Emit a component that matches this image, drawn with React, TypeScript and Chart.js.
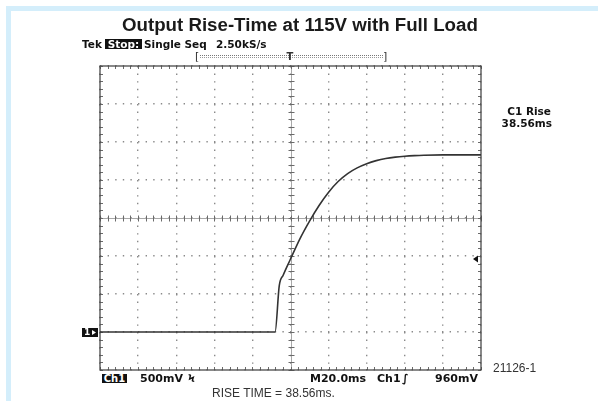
import React, { useEffect, useRef } from "react";
import { Chart, registerables } from "chart.js";

Chart.register(...registerables);

// Channel 1 capture: time relative to the trigger point (ms) and voltage (V)
const timeMs = [-100, -8.1, -5.9, -3.8, 0, 5, 10, 15, 20, 25, 30, 35, 40, 45, 50, 55, 60, 65, 70, 80, 100];
const volts = [0, 0, 0.61, 0.75, 0.96, 1.23, 1.46, 1.665, 1.84, 1.98, 2.085, 2.16, 2.215, 2.255, 2.283, 2.301, 2.313, 2.321, 2.326, 2.33, 2.33];

// Horizontal: 20 ms/div over 10 divisions, trigger at centre
const timeRange = [-100, 100];
const timePerDiv = 20;
// Vertical: 500 mV/div over 8 divisions, ground reference one division above the bottom
const voltRange = [-0.5, 3.5];
const voltPerDiv = 0.5;
const triggerLevel = 0.96;

const BAND = "#d4eefb";
const SCOPE_FONT = "'DejaVu Sans', sans-serif";
const SANS = "'Liberation Sans', Arial, sans-serif";

function line(ctx: CanvasRenderingContext2D, x1: number, y1: number, x2: number, y2: number) {
  ctx.beginPath();
  ctx.moveTo(x1, y1);
  ctx.lineTo(x2, y2);
  ctx.stroke();
}

const crisp = (v: number) => Math.round(v) + 0.5;

// Graticule centre lines, minor ticks, frame and the channel / trigger markers
const scopeDecor = {
  id: "scopeDecor",
  beforeDatasetsDraw(chart: any) {
    const { ctx, chartArea: a, scales } = chart;
    const xs = scales.x;
    const ys = scales.y;
    const cx = crisp(xs.getPixelForValue((timeRange[0] + timeRange[1]) / 2));
    const cy = crisp(ys.getPixelForValue((voltRange[0] + voltRange[1]) / 2));
    ctx.save();
    ctx.lineWidth = 1;
    ctx.strokeStyle = "#a8a8a8";
    line(ctx, a.left, cy, a.right, cy);
    line(ctx, cx, a.top, cx, a.bottom);

    ctx.strokeStyle = "#6a6a6a";
    const tStep = timePerDiv / 5;
    for (let t = timeRange[0]; t <= timeRange[1] + 1e-6; t += tStep) {
      const px = crisp(xs.getPixelForValue(t));
      line(ctx, px, cy - 3, px, cy + 3);
      line(ctx, px, a.top, px, a.top + 3);
      line(ctx, px, a.bottom - 3, px, a.bottom);
    }
    const vStep = voltPerDiv / 5;
    for (let v = voltRange[0]; v <= voltRange[1] + 1e-6; v += vStep) {
      const py = crisp(ys.getPixelForValue(v));
      line(ctx, cx - 3, py, cx + 3, py);
      line(ctx, a.left, py, a.left + 3, py);
      line(ctx, a.right - 3, py, a.right, py);
    }

    ctx.strokeStyle = "#4a4a4a";
    ctx.lineWidth = 1.3;
    ctx.strokeRect(a.left, a.top, a.right - a.left, a.bottom - a.top);
    ctx.restore();
  },
  afterDatasetsDraw(chart: any) {
    const { ctx, chartArea: a, scales } = chart;
    const ys = scales.y;
    ctx.save();

    // Channel 1 ground reference marker
    const gy = Math.round(ys.getPixelForValue(0));
    ctx.fillStyle = "#111";
    ctx.fillRect(a.left - 18, gy - 4, 16, 9);
    ctx.fillStyle = "#fff";
    ctx.font = `bold 9px ${SCOPE_FONT}`;
    ctx.textBaseline = "middle";
    ctx.fillText("1", a.left - 16, gy + 0.5);
    ctx.beginPath();
    ctx.moveTo(a.left - 8, gy - 2);
    ctx.lineTo(a.left - 4, gy + 0.5);
    ctx.lineTo(a.left - 8, gy + 3);
    ctx.closePath();
    ctx.fill();

    // Trigger level marker
    const ty = ys.getPixelForValue(triggerLevel);
    ctx.fillStyle = "#111";
    ctx.beginPath();
    ctx.moveTo(a.right - 8, ty);
    ctx.lineTo(a.right - 3, ty - 3.5);
    ctx.lineTo(a.right - 3, ty + 3.5);
    ctx.closePath();
    ctx.fill();
    ctx.restore();
  },
};

type LabelProps = {
  x: number;
  base: number;
  size: number;
  family: string;
  bold?: boolean;
  color?: string;
  right?: boolean;
  children: React.ReactNode;
};

// Places text so that its baseline sits at `base`
function Label({ x, base, size, family, bold, color = "#111", right, children }: LabelProps) {
  const style: React.CSSProperties = {
    position: "absolute",
    top: base - 0.846 * size,
    fontSize: size,
    lineHeight: `${size}px`,
    fontFamily: family,
    fontWeight: bold ? "bold" : "normal",
    color,
    whiteSpace: "nowrap",
  };
  if (right) style.right = 598 - x;
  else style.left = x;
  return <div style={style}>{children}</div>;
}

function Inverse({ x, y, w, h, size, children }: { x: number; y: number; w: number; h: number; size: number; children: React.ReactNode }) {
  return (
    <div
      style={{
        position: "absolute",
        left: x,
        top: y,
        width: w,
        height: h,
        background: "#111",
        color: "#fff",
        fontFamily: SCOPE_FONT,
        fontWeight: "bold",
        fontSize: size,
        lineHeight: `${h}px`,
        textAlign: "center",
        whiteSpace: "nowrap",
        overflow: "hidden",
      }}
    >
      {children}
    </div>
  );
}

export default function App() {
  const canvasRef = useRef<HTMLCanvasElement>(null);

  useEffect(() => {
    const canvas = canvasRef.current;
    if (!canvas) return;
    const chart = new Chart(canvas, {
      type: "line",
      data: {
        datasets: [
          {
            data: timeMs.map((t, i) => ({ x: t, y: volts[i] })),
            borderColor: "#333",
            borderWidth: 1.6,
            pointRadius: 0,
            cubicInterpolationMode: "monotone",
            fill: false,
          },
        ],
      },
      options: {
        responsive: false,
        animation: false,
        events: [],
        layout: { padding: { left: 100, top: 66, right: 117, bottom: 31 } },
        plugins: { legend: { display: false }, tooltip: { enabled: false }, title: { display: false } },
        scales: {
          x: {
            type: "linear",
            min: timeRange[0],
            max: timeRange[1],
            ticks: { display: false, stepSize: timePerDiv },
            grid: { color: "#8a8a8a", lineWidth: 1.4, drawTicks: false },
            border: { display: false, dash: [1.4, 6.2] },
          },
          y: {
            type: "linear",
            min: voltRange[0],
            max: voltRange[1],
            ticks: { display: false, stepSize: voltPerDiv },
            grid: { color: "#8a8a8a", lineWidth: 1.4, drawTicks: false },
            border: { display: false, dash: [1.4, 6.2] },
          },
        },
      },
      plugins: [scopeDecor],
    } as any);
    return () => chart.destroy();
  }, []);

  return (
    <div style={{ position: "fixed", left: 0, top: 0, width: 598, height: 401, background: "#fff", overflow: "hidden" }}>
      <div style={{ position: "absolute", left: 6, top: 6, width: 592, height: 5, background: BAND }} />
      <div style={{ position: "absolute", left: 6, top: 6, width: 5, height: 395, background: BAND }} />
      <canvas ref={canvasRef} width={598} height={401} style={{ position: "absolute", left: 0, top: 0 }} />

      <Label x={122} base={31.5} size={18.7} family={SANS} bold color="#1a1a1a">
        Output Rise-Time at 115V with Full Load
      </Label>

      {/* acquisition status line */}
      <Label x={82} base={47.7} size={10.5} family={SCOPE_FONT} bold>Tek</Label>
      <Inverse x={105} y={39} w={37} h={10} size={10.5}>Stop:</Inverse>
      <Label x={144} base={47.7} size={10.5} family={SCOPE_FONT} bold>Single Seq</Label>
      <Label x={216} base={47.7} size={10.5} family={SCOPE_FONT} bold>2.50kS/s</Label>

      {/* record position bracket */}
      <Label x={195} base={60} size={11} family={SCOPE_FONT} color="#333">[</Label>
      <div style={{ position: "absolute", left: 200, top: 55, width: 183, height: 1, borderTop: "1px dotted #777", borderBottom: "1px dotted #999" }} />
      <Label x={286.5} base={60} size={10} family={SCOPE_FONT} bold color="#333">T</Label>
      <Label x={383} base={60} size={11} family={SCOPE_FONT} color="#333">]</Label>

      {/* measurement readout */}
      <Label x={551} base={115} size={10.5} family={SCOPE_FONT} bold right>C1 Rise</Label>
      <Label x={552} base={127} size={10.5} family={SCOPE_FONT} bold right>38.56ms</Label>

      {/* channel and timebase readout */}
      <Inverse x={102} y={374} w={25} h={9} size={10}>Ch1</Inverse>
      <Label x={140} base={382} size={11} family={SCOPE_FONT} bold>500mV</Label>
      <Label x={188} base={382} size={10} family={SCOPE_FONT} bold>Ϟ</Label>
      <Label x={310} base={382} size={11} family={SCOPE_FONT} bold>M20.0ms</Label>
      <Label x={377} base={382} size={11} family={SCOPE_FONT} bold>Ch1</Label>
      <Label x={402} base={382} size={11} family={SCOPE_FONT} bold>∫</Label>
      <Label x={435} base={382} size={11} family={SCOPE_FONT} bold>960mV</Label>

      <Label x={493} base={372} size={12} family={SANS} color="#333">21126-1</Label>
      <Label x={212} base={397} size={12} family={SANS} color="#333">RISE TIME = 38.56ms.</Label>
    </div>
  );
}
